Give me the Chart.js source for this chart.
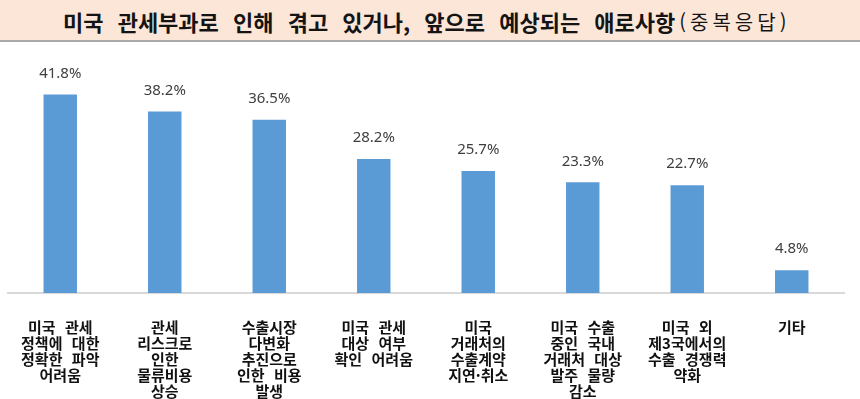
<!DOCTYPE html>
<html lang="ko">
<head>
<meta charset="utf-8">
<script src="https://cdn.jsdelivr.net/npm/chart.js@4"></script>
<style>
  html,body{margin:0;padding:0;background:#fff;width:860px;height:399px;overflow:hidden;}
  .title{height:38px;padding-top:2px;background:#FCE6D8;border-bottom:2px solid #A9A9A9;
    font-family:"Noto Sans CJK KR",sans-serif;color:#141414;
    display:flex;align-items:center;padding-left:63px;box-sizing:content-box;white-space:nowrap;}
  .title .main{font-size:22px;font-weight:bold;word-spacing:8px;}
  .title .sub{font-size:20px;font-weight:normal;letter-spacing:4px;margin-left:4px;}
  .wrap{position:relative;width:860px;height:357px;}
</style>
</head>
<body>
<div class="title"><span class="main">미국 관세부과로 인해 겪고 있거나, 앞으로 예상되는 애로사항</span><span class="sub">(중복응답)</span></div>
<div class="wrap"><canvas id="c"></canvas></div>
<script>
// data
const categories = [
  ['미국 관세','정책에 대한','정확한 파악','어려움'],
  ['관세','리스크로','인한','물류비용','상승'],
  ['수출시장','다변화','추진으로','인한 비용','발생'],
  ['미국 관세','대상 여부','확인 어려움'],
  ['미국','거래처의','수출계약','지연·취소'],
  ['미국 수출','중인 국내','거래처 대상','발주 물량','감소'],
  ['미국 외','제3국에서의','수출 경쟁력','약화'],
  ['기타']
];
const values = [41.8, 38.2, 36.5, 28.2, 25.7, 23.3, 22.7, 4.8];

// wider word gaps, like the original labels
const wordGap = {
  id:'wordGap',
  beforeDraw(chart){ chart.ctx.wordSpacing = '6px'; }
};

// value labels above the bars
const valueLabels = {
  id:'valueLabels',
  afterDatasetsDraw(chart){
    const ctx = chart.ctx;
    const meta = chart.getDatasetMeta(0);
    ctx.save();
    ctx.wordSpacing = '0px';
    ctx.font = '15px "Noto Sans", sans-serif';
    ctx.fillStyle = '#404040';
    ctx.textAlign = 'center';
    ctx.textBaseline = 'middle';
    meta.data.forEach((bar,i)=>{
      ctx.fillText(values[i].toFixed(1)+'%', bar.x, bar.y - 21);
    });
    ctx.restore();
  }
};

new Chart(document.getElementById('c'), {
  type:'bar',
  data:{ labels:categories, datasets:[{ data:values, backgroundColor:'#5B9BD5', barPercentage:0.32, categoryPercentage:1 }] },
  options:{
    responsive:true, maintainAspectRatio:false, animation:false,
    layout:{ padding:{ top:13.5, left:8, right:16, bottom:0 } },
    plugins:{ legend:{display:false}, tooltip:{enabled:false} },
    scales:{
      y:{ display:false, min:0, max:50 },
      x:{
        afterFit(scale){ scale.height = 106; },
        grid:{ display:false },
        border:{ display:true, color:'#D9D9D9', width:2 },
        ticks:{
          autoSkip:false, maxRotation:0, padding:18, color:'#111',
          font:{ family:'"Noto Sans CJK KR", sans-serif', size:15, weight:'bold', lineHeight:'16px' }
        }
      }
    }
  },
  plugins:[wordGap, valueLabels]
});
</script>
</body>
</html>
